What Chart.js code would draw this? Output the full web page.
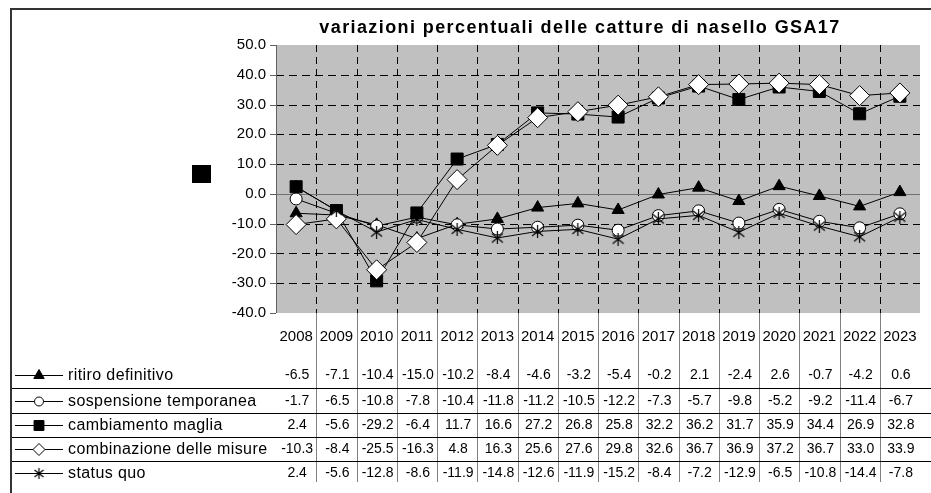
<!DOCTYPE html>
<html>
<head>
<meta charset="utf-8">
<script src="https://cdn.jsdelivr.net/npm/chart.js@4.4.0/dist/chart.umd.min.js"></script>
<style>
  body { margin: 0; background: #fff; }
  canvas { display: block; }
</style>
</head>
<body>
<canvas id="chart" width="931" height="493"></canvas>
<script>
// data
const years = ['2008', '2009', '2010', '2011', '2012', '2013', '2014', '2015', '2016', '2017', '2018', '2019', '2020', '2021', '2022', '2023'];
const ritiro = [-6.5, -7.1, -10.4, -15.0, -10.2, -8.4, -4.6, -3.2, -5.4, -0.2, 2.1, -2.4, 2.6, -0.7, -4.2, 0.6];
const sospensione = [-1.7, -6.5, -10.8, -7.8, -10.4, -11.8, -11.2, -10.5, -12.2, -7.3, -5.7, -9.8, -5.2, -9.2, -11.4, -6.7];
const cambiamento = [2.4, -5.6, -29.2, -6.4, 11.7, 16.6, 27.2, 26.8, 25.8, 32.2, 36.2, 31.7, 35.9, 34.4, 26.9, 32.8];
const combinazione = [-10.3, -8.4, -25.5, -16.3, 4.8, 16.3, 25.6, 27.6, 29.8, 32.6, 36.7, 36.9, 37.2, 36.7, 33.0, 33.9];
const statusQuo = [2.4, -5.6, -12.8, -8.6, -11.9, -14.8, -12.6, -11.9, -15.2, -8.4, -7.2, -12.9, -6.5, -10.8, -14.4, -7.8];
const seriesNames = ['ritiro definitivo', 'sospensione temporanea', 'cambiamento maglia', 'combinazione delle misure', 'status quo'];
const yMin = -40, yMax = 50, yStep = 10;
const title = 'variazioni percentuali delle catture di nasello GSA17';

const FONT = "'Liberation Sans', Arial, sans-serif";

// excel style star marker: X with a vertical stroke
function makeStar(size) {
    const c = document.createElement('canvas');
    c.width = size; c.height = size;
    const g = c.getContext('2d');
    g.strokeStyle = '#000';
    g.lineWidth = 1.2;
    g.beginPath();
    g.moveTo(size / 2, 0); g.lineTo(size / 2, size);
    g.moveTo(1, 2); g.lineTo(size - 1, size - 2);
    g.moveTo(size - 1, 2); g.lineTo(1, size - 2);
    g.stroke();
    return c;
}
const starBig = makeStar(13);
const starSmall = makeStar(11);

const markers = [
    { style: 'triangle', r: 7, fill: '#000', lr: 6 },
    { style: 'circle', r: 6, fill: '#fff', lr: 4.5 },
    { style: 'rect', r: 8.5, fill: '#000', lr: 7 },
    { style: 'rectRot', r: 10, fill: '#fff', lr: 6 },
    { style: starBig, r: 7, fill: '#000', lr: 6, small: starSmall }
];
const allData = [ritiro, sospensione, cambiamento, combinazione, statusQuo];

const datasets = allData.map((d, i) => ({
    label: seriesNames[i],
    data: d,
    borderColor: '#000',
    borderWidth: 1,
    pointStyle: markers[i].style,
    pointRadius: markers[i].r,
    pointBackgroundColor: markers[i].fill,
    pointBorderColor: '#000',
    pointBorderWidth: 1,
    tension: 0,
    order: 5 - i
}));

const rowY = [375, 401, 425, 449, 473];
const rowLines = [388, 413, 437, 461];

const excelPlugin = {
    id: 'excel',
    beforeDraw(chart) {
        const ctx = chart.ctx;
        const a = chart.chartArea;
        ctx.save();
        ctx.fillStyle = '#fff';
        ctx.fillRect(0, 0, chart.width, chart.height);
        ctx.fillStyle = '#c0c0c0';
        ctx.fillRect(a.left, a.top, a.right - a.left, a.bottom - a.top);
        ctx.restore();
    },
    beforeDatasetsDraw(chart) {
        const ctx = chart.ctx;
        const a = chart.chartArea;
        const x = chart.scales.x, y = chart.scales.y;
        const half = (x.getPixelForValue(1) - x.getPixelForValue(0)) / 2;
        ctx.save();
        ctx.strokeStyle = '#000';
        ctx.lineWidth = 1;
        // horizontal dashed grid
        ctx.setLineDash([8, 5]);
        for (let v = yMin + yStep; v < yMax; v += yStep) {
            if (v === 0) continue;
            const py = Math.round(y.getPixelForValue(v)) + 0.5;
            ctx.beginPath(); ctx.moveTo(a.left, py); ctx.lineTo(a.right, py); ctx.stroke();
        }
        // vertical dashed grid
        ctx.setLineDash([7, 5]);
        for (let i = 1; i < years.length; i++) {
            const px = Math.round(x.getPixelForValue(i) - half) + 0.5;
            ctx.beginPath(); ctx.moveTo(px, a.top); ctx.lineTo(px, a.bottom); ctx.stroke();
        }
        ctx.setLineDash([]);
        // zero line
        ctx.strokeStyle = '#707070';
        const z = Math.round(y.getPixelForValue(0)) + 0.5;
        ctx.beginPath(); ctx.moveTo(a.left, z); ctx.lineTo(a.right, z); ctx.stroke();
        // axis line + tick marks
        ctx.strokeStyle = '#606060';
        ctx.beginPath(); ctx.moveTo(a.left + 0.5, a.top); ctx.lineTo(a.left + 0.5, a.bottom); ctx.stroke();
        for (let v = yMin; v <= yMax; v += yStep) {
            const py = Math.round(y.getPixelForValue(v)) + 0.5;
            ctx.beginPath(); ctx.moveTo(a.left - 6, py); ctx.lineTo(a.left, py); ctx.stroke();
        }
        ctx.restore();
    },
    afterDraw(chart) {
        const ctx = chart.ctx;
        const a = chart.chartArea;
        const x = chart.scales.x;
        const half = (x.getPixelForValue(1) - x.getPixelForValue(0)) / 2;
        ctx.save();

        // column separators under the plot
        ctx.strokeStyle = '#808080';
        ctx.lineWidth = 1;
        for (let i = 1; i < years.length; i++) {
            const px = Math.round(x.getPixelForValue(i) - half) + 0.5;
            ctx.beginPath(); ctx.moveTo(px, a.bottom); ctx.lineTo(px, 482); ctx.stroke();
        }
        // row separators
        ctx.strokeStyle = '#000';
        rowLines.forEach(ly => {
            ctx.beginPath(); ctx.moveTo(11, ly + 0.5); ctx.lineTo(chart.width, ly + 0.5); ctx.stroke();
        });

        ctx.fillStyle = '#000';
        ctx.textBaseline = 'middle';
        ctx.textAlign = 'center';
        ctx.font = '15px ' + FONT;
        years.forEach((yr, i) => ctx.fillText(yr, x.getPixelForValue(i), 337));
        ctx.font = '14px ' + FONT;
        allData.forEach((d, r) => {
            d.forEach((v, i) => ctx.fillText(v.toFixed(1), x.getPixelForValue(i) + 1, rowY[r]));
        });

        // legend keys
        ctx.textAlign = 'left';
        ctx.font = '16px ' + FONT;
        ctx.letterSpacing = '0.4px';
        seriesNames.forEach((name, r) => {
            const ky = rowY[r];
            ctx.strokeStyle = '#000';
            ctx.lineWidth = 1;
            ctx.beginPath(); ctx.moveTo(15, ky + 0.5); ctx.lineTo(63, ky + 0.5); ctx.stroke();
            const m = markers[r];
            ctx.fillStyle = m.fill;
            Chart.helpers.drawPoint(ctx, {
                pointStyle: m.small || m.style, radius: m.lr, rotation: 0, borderWidth: 1
            }, 39, ky + 0.5);
            ctx.fillStyle = '#000';
            ctx.fillText(name, 68, ky + 1);
        });

        // title
        ctx.font = 'bold 18px ' + FONT;
        ctx.letterSpacing = '1.4px';
        ctx.textAlign = 'center';
        ctx.textBaseline = 'alphabetic';
        ctx.fillText(title, 580, 33);
        ctx.letterSpacing = '0px';

        // stray legend square
        ctx.fillRect(192, 165, 19, 18);

        // chart frame
        ctx.strokeStyle = '#333';
        ctx.lineWidth = 2;
        ctx.beginPath();
        ctx.moveTo(11, chart.height); ctx.lineTo(11, 9); ctx.lineTo(chart.width, 9);
        ctx.stroke();
        ctx.restore();
    }
};

new Chart(document.getElementById('chart'), {
    type: 'line',
    data: { labels: years, datasets: datasets },
    options: {
        responsive: false,
        animation: false,
        layout: { padding: { left: 216, top: 45, right: 0, bottom: 0 } },
        plugins: { legend: { display: false }, tooltip: { enabled: false }, title: { display: false } },
        scales: {
            x: {
                type: 'category',
                offset: true,
                grid: { display: false },
                border: { display: false },
                ticks: { display: false },
                afterFit: s => { s.height = 180; }
            },
            y: {
                min: yMin,
                max: yMax,
                grid: { display: false, drawTicks: false },
                border: { display: false },
                ticks: {
                    stepSize: yStep,
                    padding: 10,
                    color: '#000',
                    font: { family: FONT, size: 15 },
                    callback: v => v.toFixed(1)
                },
                afterFit: s => { s.width = 60; }
            }
        }
    },
    plugins: [excelPlugin]
});
</script>
</body>
</html>
